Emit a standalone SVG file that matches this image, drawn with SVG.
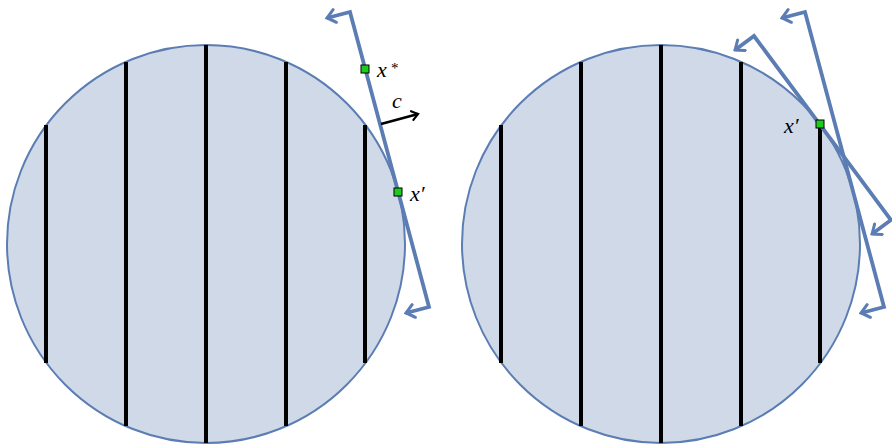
<svg xmlns="http://www.w3.org/2000/svg" width="892" height="445" viewBox="0 0 892 445">
<style>
.disk{fill:#cfd9e7;stroke:#5b7db3;stroke-width:2}
.chord{stroke:#000;stroke-width:4;fill:none}
.plane{fill:none;stroke:#5b7db3;stroke-width:3.8;stroke-linejoin:miter;marker-start:url(#vs);marker-end:url(#ve)}
.pt{fill:#1ccc1c;stroke:#000;stroke-width:1}
.lbl{font-family:"Liberation Serif","DejaVu Serif",serif;font-style:italic;font-size:22px;fill:#000}
</style>
<defs>
<marker id="ve" viewBox="-10 -8 12 16" markerWidth="12" markerHeight="16" markerUnits="userSpaceOnUse" refX="0" refY="0" orient="auto">
<path d="M-8,-6.5 Q-2,-1.5 0,0 Q-2,1.5 -8,6.5" fill="none" stroke="#5b7db3" stroke-width="3" stroke-linecap="round"/>
</marker>
<marker id="vs" viewBox="-10 -8 12 16" markerWidth="12" markerHeight="16" markerUnits="userSpaceOnUse" refX="0" refY="0" orient="auto-start-reverse">
<path d="M-8,-6.5 Q-2,-1.5 0,0 Q-2,1.5 -8,6.5" fill="none" stroke="#5b7db3" stroke-width="3" stroke-linecap="round"/>
</marker>
<marker id="ca" viewBox="-8 -6 10 12" markerWidth="10" markerHeight="12" markerUnits="userSpaceOnUse" refX="0" refY="0" orient="auto">
<path d="M-6,-4.5 Q-1.5,-1 0,0 Q-1.5,1 -6,4.5" fill="none" stroke="#000" stroke-width="2.2" stroke-linecap="round"/>
</marker>
</defs>
<g id="disk-left">
<circle class="disk" cx="206" cy="244" r="199"/>
<line class="chord" x1="46" y1="125" x2="46" y2="363"/>
<line class="chord" x1="126" y1="62" x2="126" y2="426"/>
<line class="chord" x1="206" y1="45" x2="206" y2="443"/>
<line class="chord" x1="286" y1="62" x2="286" y2="426"/>
<line class="chord" x1="365" y1="125" x2="365" y2="363"/>
</g>
<g id="disk-right">
<circle class="disk" cx="661" cy="244" r="199"/>
<line class="chord" x1="501" y1="125" x2="501" y2="363"/>
<line class="chord" x1="581" y1="62" x2="581" y2="426"/>
<line class="chord" x1="661" y1="45" x2="661" y2="443"/>
<line class="chord" x1="741" y1="62" x2="741" y2="426"/>
<line class="chord" x1="820" y1="125" x2="820" y2="363"/>
</g>
<g id="connectors">
<path class="plane" d="M327,18 L350,12 L429,307 L406,313"/>
<path class="plane" d="M782,18 L805,12 L884,307 L861,313"/>
<path class="plane" d="M735,50 L754,36 L891,220 L872,234"/>
<line x1="381" y1="124" x2="418" y2="114" stroke="#000" stroke-width="2.5" marker-end="url(#ca)"/>
</g>
<g id="point-xstar">
<rect class="pt" x="361" y="65" width="8" height="8"/>
<text class="lbl" x="377" y="77">x</text>
<text class="lbl" x="391" y="73" style="font-style:normal;font-size:15px">*</text>
</g>
<g id="point-xprime-left">
<rect class="pt" x="394" y="188" width="8" height="8"/>
<text class="lbl" x="410" y="201">x′</text>
</g>
<g id="label-c">
<text class="lbl" x="392" y="108">c</text>
</g>
<g id="point-xprime-right">
<rect class="pt" x="816" y="120" width="8" height="8"/>
<text class="lbl" x="784" y="133">x′</text>
</g>
</svg>
